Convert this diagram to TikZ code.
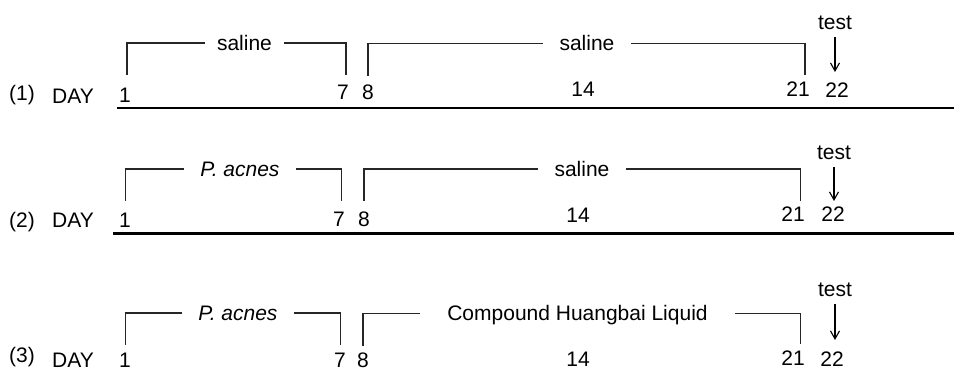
\documentclass[tikz,border=0pt]{standalone}
\usepackage{fontspec}
\setmainfont{Liberation Sans}
\usetikzlibrary{arrows.meta}
\begin{document}
\begin{tikzpicture}[x=1pt,y=-1pt,
  lbl/.style={font=\fontsize{21}{25}\selectfont, inner sep=0pt, anchor=base},
  brlabel/.style={font=\fontsize{21}{25}\selectfont, inner ysep=0pt, text height=15pt, text depth=0pt, anchor=center},
  brk/.style={line width=1.2pt, draw=black!85},
  axisline/.style={line width=2.6pt},
  testarrow/.style={line width=1.1pt, shorten <=7pt, -{Straight Barb[length=8pt,width=9pt]}}]
\useasboundingbox (0,0) rectangle (954,371);

% ---------- Row 1 ----------
\node[lbl] (r1) at (22,101) {(1)};
\node[lbl] (d1) at (73,104) {DAY};
\node[brlabel, inner xsep=12pt] (s11) at (244.5,43) {saline};
\node[brlabel, inner xsep=16.6pt] (s12) at (587,43.5) {saline};
\coordinate (a11) at (127,75);
\coordinate (a12) at (346,75);
\coordinate (a13) at (368,76);
\coordinate (a14) at (805,75);
\draw[brk] (a11) |- (s11.west);
\draw[brk] (s11.east) -| (a12);
\draw[brk] (a13) |- (s12.west);
\draw[brk] (s12.east) -| (a14);
\node[lbl] (t1) at (835,30) {test};
\coordinate (e1) at (835,72);
\draw[testarrow] (t1.south) -- (e1);
\node[lbl] (n11) at (125,103) {1};
\node[lbl] (n17) at (343,100) {7};
\node[lbl] (n18) at (368,100) {8};
\node[lbl] (n114) at (583,97) {14};
\node[lbl] (n121) at (798,97) {21};
\node[lbl] (n122) at (837,98) {22};
\coordinate (x1a) at (117,108);
\coordinate (x1b) at (954,108);
\draw[axisline] (x1a) -- (x1b);

% ---------- Row 2 ----------
\node[lbl] (r2) at (22,228) {(2)};
\node[lbl] (d2) at (73,228) {DAY};
\node[brlabel, inner xsep=16.6pt] (s21) at (240,169) {\itshape P. acnes};
\node[brlabel, inner xsep=16.6pt] (s22) at (582,169) {saline};
\coordinate (a21) at (125.5,201);
\coordinate (a22) at (341.5,201);
\coordinate (a23) at (364,201);
\coordinate (a24) at (800.5,201);
\draw[brk] (a21) |- (s21.west);
\draw[brk] (s21.east) -| (a22);
\draw[brk] (a23) |- (s22.west);
\draw[brk] (s22.east) -| (a24);
\node[lbl] (t2) at (834,160) {test};
\coordinate (e2) at (834,201);
\draw[testarrow] (t2.south) -- (e2);
\node[lbl] (n21) at (125,228) {1};
\node[lbl] (n27) at (339,227) {7};
\node[lbl] (n28) at (364,227) {8};
\node[lbl] (n214) at (578,223) {14};
\node[lbl] (n221) at (793,222) {21};
\node[lbl] (n222) at (833,222) {22};
\coordinate (x2a) at (113,233.3);
\coordinate (x2b) at (954,233.3);
\draw[axisline] (x2a) -- (x2b);

% ---------- Row 3 ----------
\node[lbl] (r3) at (22,363) {(3)};
\node[lbl] (d3) at (73,368) {DAY};
\node[brlabel, inner xsep=16.6pt] (s31) at (238,313) {\itshape P. acnes};
\node[brlabel, inner xsep=27.5pt] (s32) at (577.5,313.5) {Compound Huangbai Liquid};
\coordinate (a31) at (125.5,345);
\coordinate (a32) at (340.5,345);
\coordinate (a33) at (363,346);
\coordinate (a34) at (800.5,344);
\draw[brk] (a31) |- (s31.west);
\draw[brk] (s31.east) -| (a32);
\draw[brk] (a33) |- (s32.west);
\draw[brk] (s32.east) -| (a34);
\node[lbl] (t3) at (835,297) {test};
\coordinate (e3) at (835,340);
\draw[testarrow] (t3.south) -- (e3);
\node[lbl] (n31) at (125,368) {1};
\node[lbl] (n37) at (340,368) {7};
\node[lbl] (n38) at (363,368) {8};
\node[lbl] (n314) at (578,367) {14};
\node[lbl] (n321) at (793,366) {21};
\node[lbl] (n322) at (832,367) {22};
\end{tikzpicture}
\end{document}
